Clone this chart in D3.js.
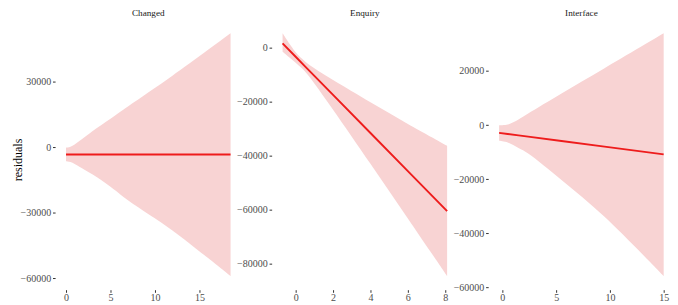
<!DOCTYPE html>
<html>
<head>
<meta charset="utf-8">
<script src="https://cdn.jsdelivr.net/npm/d3@7"></script>
<style>
  body { margin: 0; background: #fff; }
  text { font-family: "Liberation Serif", "DejaVu Serif", serif; }
</style>
</head>
<body>
<svg id="chart" width="678" height="305"></svg>
<script>
// facet names
const panels = ["Changed", "Enquiry", "Interface"];

// values: x, fitted line, band limits
const changedX = [0, 0.5, 1.5, 3, 5, 7, 12, 18.5];
const changedFit = [-3400, -3400, -3400, -3400, -3400, -3400, -3400, -3400];
const changedUpper = [-300, 100, 2800, 7400, 13000, 18700, 32800, 52100];
const changedLower = [-6500, -6900, -9000, -12600, -18200, -24500, -38300, -59100];

const enquiryX = [-0.7, 0, 0.5, 1, 2, 4, 6, 8.1];
const enquiryFit = [1560, -3380, -6910, -10440, -17500, -31620, -45740, -60570];
const enquiryUpper = [5300, -1700, -5100, -7640, -12000, -20220, -28240, -36300];
const enquiryLower = [-1500, -5600, -8810, -13240, -23000, -43020, -63240, -84600];

const interfaceX = [-0.3, 0.5, 1.5, 2.4, 5.5, 9.5, 15];
const interfaceFit = [-2970, -3390, -3910, -4380, -5995, -8080, -10945];
const interfaceUpper = [-200, 100, 2000, 4200, 11600, 20900, 33800];
const interfaceLower = [-5900, -6500, -8600, -10600, -20400, -34000, -55900];

// tick labels
const xTicks = [[0, 5, 10, 15], [0, 2, 4, 6, 8], [0, 5, 10, 15]];
const yTicks = [[-60000, -30000, 0, 30000],
                [-80000, -60000, -40000, -20000, 0],
                [-60000, -40000, -20000, 0, 20000]];

const series = [
  {x: changedX, fit: changedFit, upper: changedUpper, lower: changedLower},
  {x: enquiryX, fit: enquiryFit, upper: enquiryUpper, lower: enquiryLower},
  {x: interfaceX, fit: interfaceFit, upper: interfaceUpper, lower: interfaceLower}
];

const svg = d3.select("#chart");
svg.append("rect").attr("width", 678).attr("height", 305).attr("fill", "#fff");

//panel layout
const left0 = 57.8, panelTop = 21.2, panelW = 181, panelH = 267, gap = 35.55;
const fmt = d3.format("d");

//expand a domain by 5% on each side like ggplot
function expand(ext) {
  const pad = (ext[1] - ext[0]) * 0.05;
  return [ext[0] - pad, ext[1] + pad];
}

panels.forEach((name, i) => {
  const s = series[i];
  const left = left0 + i * (panelW + gap);
  const rows = s.x.map((x, j) => ({x: x, fit: s.fit[j], upper: s.upper[j], lower: s.lower[j]}));

  const x = d3.scaleLinear()
    .domain(expand(d3.extent(s.x)))
    .range([left, left + panelW]);
  const y = d3.scaleLinear()
    .domain(expand([d3.min(s.lower), d3.max(s.upper)]))
    .range([panelTop + panelH, panelTop]);

  const g = svg.append("g");

  //confidence band
  g.append("path")
    .datum(rows)
    .attr("fill", "#F8D3D3")
    .attr("d", d3.area()
      .curve(d3.curveCatmullRom.alpha(0.5))
      .x(d => x(d.x))
      .y0(d => y(d.lower))
      .y1(d => y(d.upper)));

  //fitted line
  g.append("path")
    .datum(rows)
    .attr("fill", "none")
    .attr("stroke", "#EE1C1C")
    .attr("stroke-width", 1.9)
    .attr("d", d3.line()
      .x(d => x(d.x))
      .y(d => y(d.fit)));

  //axes
  const yAxis = g.append("g")
    .attr("transform", `translate(${left - 2.2},0)`)
    .call(d3.axisLeft(y).tickValues(yTicks[i]).tickFormat(fmt).tickSize(2.6).tickPadding(1.8));
  const xAxis = g.append("g")
    .attr("transform", `translate(0,${panelTop + panelH + 2})`)
    .call(d3.axisBottom(x).tickValues(xTicks[i]).tickFormat(fmt).tickSize(2.6).tickPadding(1.4));

  [yAxis, xAxis].forEach(a => {
    a.select(".domain").remove();
    a.selectAll("line").attr("stroke", "#333333").attr("stroke-width", 1);
    a.selectAll("text")
      .attr("fill", "#4D4D4D")
      .style("font-family", '"Liberation Serif", "DejaVu Serif", serif')
      .style("font-size", "10px");
  });

  //strip title
  svg.append("text")
    .attr("x", left + panelW / 2)
    .attr("y", 12.3)
    .attr("dy", "0.35em")
    .attr("text-anchor", "middle")
    .attr("fill", "#1A1A1A")
    .style("font-size", "9.2px")
    .text(name);
});

svg.append("text")
  .attr("transform", "translate(18,160) rotate(-90)")
  .attr("dy", "0.35em")
  .attr("text-anchor", "middle")
  .attr("fill", "#000")
  .style("font-size", "12px")
  .text("residuals");
</script>
</body>
</html>
